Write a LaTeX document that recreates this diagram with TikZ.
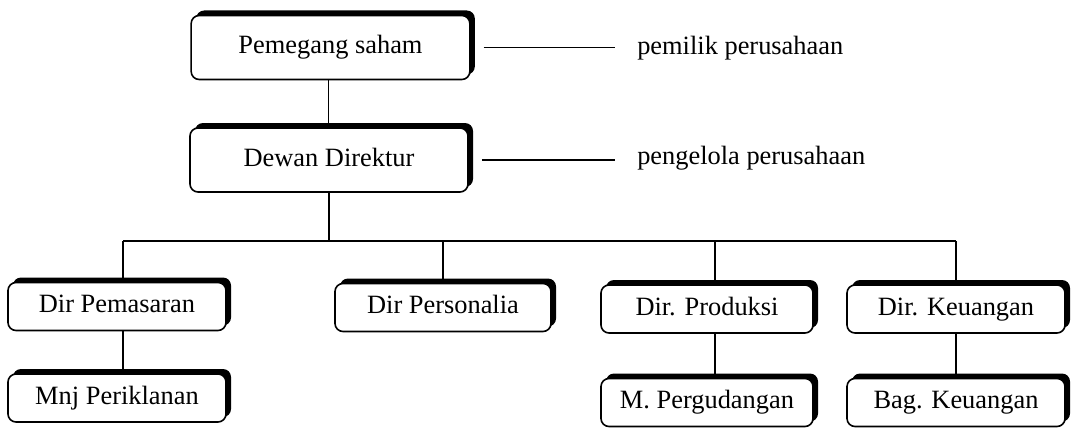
\documentclass[tikz,border=0pt]{standalone}
\usepackage{fontspec}
\setmainfont{Liberation Serif}
\usetikzlibrary{shadows}
\tikzset{
  box/.style = {shape=rectangle, rounded corners=6pt,
                draw, line width=1.2pt, fill=white, align=center,
                text height=13.5pt, text depth=4.4pt,
                general shadow={fill=black, shadow xshift=3.75pt, shadow yshift=3.75pt}},
  head/.style = {box, minimum height=48pt},
  unit/.style = {box, minimum height=36pt},
  note/.style = {anchor=west, inner sep=0pt},
  link/.style = {draw, line width=1.4pt}
}
\begin{document}
\begin{tikzpicture}
  [
  x = 0.75pt, y = -0.75pt,
  every node/.style = {font = \fontsize{19.8}{24}\selectfont}
  ]
  \useasboundingbox (0,0) rectangle (1073,428);

  % pimpinan
  \node[head, minimum width=209pt]   (ps)   at (330.5,47.5) {Pemegang saham};
  \node[head, minimum width=208.5pt] (dd)   at (329,160)    {Dewan Direktur};

  % direktur
  \node[unit, minimum width=163.5pt] (pem)  at (117,306.5)  {Dir Pemasaran};
  \node[unit, minimum width=162pt]   (pers) at (443,307.5)  {Dir Personalia};
  \node[unit, minimum width=159pt]   (prod) at (707,309)    {Dir. Produksi};
  \node[unit, minimum width=163.5pt] (keu)  at (956,309)    {Dir. Keuangan};

  % bagian
  \node[unit, minimum width=163.5pt] (mnj)  at (117,398)    {Mnj Periklanan};
  \node[unit, minimum width=159pt]   (gud)  at (707,402.5)  {M. Pergudangan};
  \node[unit, minimum width=163.5pt] (bag)  at (956,402.5)  {Bag. Keuangan};

  % keterangan
  \node[note] (pemilik)   at (637,48)  {pemilik perusahaan};
  \node[note] (pengelola) at (637,158) {pengelola perusahaan};
  \draw[link] ([xshift=9.75pt]ps.east) -- ([xshift=-16.5pt]ps.east -| pemilik.west);
  \draw[link] ([xshift=9.75pt]dd.east) -- ([xshift=-16.5pt]dd.east -| pengelola.west);

  % garis
  \coordinate (bar) at (0,241);
  \draw[link] ([xshift=-1.5pt]ps.south) -- ([xshift=-1.5pt]ps.south |- dd.north);
  \draw[link] (dd.south) -- (dd.south |- bar);
  \draw[link] ([xshift=4.5pt]pem.north |- bar) -- (keu.north |- bar);
  \draw[link] ([xshift=4.5pt]pem.north |- bar) -- ([xshift=4.5pt]pem.north);
  \draw[link] (pers.north |- bar) -- (pers.north);
  \draw[link] ([xshift=6pt]prod.north |- bar) -- ([xshift=6pt]prod.north);
  \draw[link] (keu.north |- bar) -- (keu.north);
  \draw[link] ([xshift=4.5pt]pem.south) -- ([xshift=4.5pt]mnj.north);
  \draw[link] ([xshift=6pt]prod.south) -- ([xshift=6pt]gud.north);
  \draw[link] (keu.south) -- (bag.north);

\end{tikzpicture}
\end{document}
